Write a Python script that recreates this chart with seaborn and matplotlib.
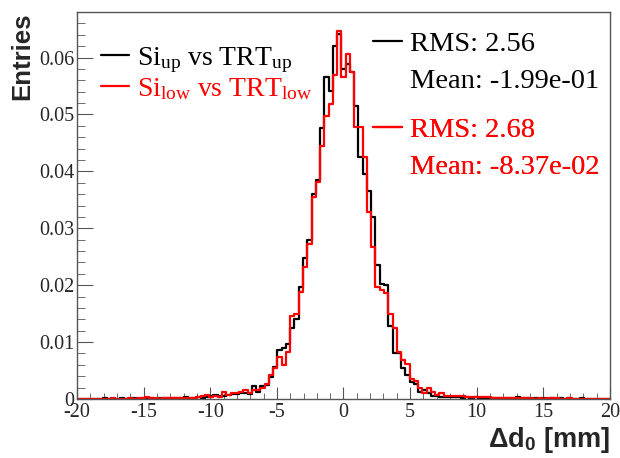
import numpy as np
import pandas as pd
import matplotlib
matplotlib.use("Agg")
import matplotlib.pyplot as plt
import seaborn as sns
from matplotlib.lines import Line2D
from matplotlib.ticker import MultipleLocator, FuncFormatter

# Histogram binning: 125 bins from -20 to 20 mm
bin_edges = np.linspace(-20, 20, 126)
bin_centers = (bin_edges[:-1] + bin_edges[1:]) / 2

# Normalised entries per bin
entries_up = [
    0, 0, 0, 0, 0, 0, 0.0001, 0, 0, 0,
    0.0001, 0, 0, 0.0001, 0, 0.0001, 0, 0.0001, 0, 0.0001,
    0.0002, 0.0001, 0.0002, 0.0001, 0.0002, 0.0003, 0.0001, 0.0002, 0.0003, 0.0002,
    0.0004, 0.0006, 0.0007, 0.0005, 0.0005, 0.0007, 0.0008, 0.0008, 0.0010, 0.0010,
    0.0008, 0.0022, 0.0013, 0.0022, 0.0024, 0.0039, 0.0057, 0.0086, 0.0089, 0.0097,
    0.0125, 0.0140, 0.0197, 0.0247, 0.0280, 0.0361, 0.0384, 0.0477, 0.0566, 0.0542,
    0.0621, 0.0642, 0.0580, 0.0589, 0.0574, 0.0514, 0.0425, 0.0396, 0.0366, 0.0320,
    0.0235, 0.0202, 0.0200, 0.0128, 0.0080, 0.0080, 0.0055, 0.0042, 0.0030, 0.0026,
    0.0013, 0.0016, 0.0010, 0.0005, 0.0005, 0.0003, 0.0003, 0.0003, 0.0003, 0.0004,
    0.0002, 0.0003, 0.0002, 0.0003, 0.0001, 0.0002, 0.0002, 0.0001, 0.0001, 0.0002,
    0.0001, 0.0001, 0.0002, 0.0004, 0.0001, 0.0001, 0, 0.0001, 0, 0.0001,
    0, 0.0001, 0, 0.0001, 0, 0.0002, 0, 0, 0.0001, 0,
    0, 0, 0, 0, 0,
]
entries_low = [
    0, 0, 0, 0, 0, 0, 0, 0, 0.0001, 0,
    0, 0, 0.0001, 0, 0.0001, 0.0001, 0.0004, 0.0001, 0.0001, 0,
    0.0001, 0.0001, 0.0001, 0.0002, 0.0001, 0.0002, 0.0001, 0.0002, 0.0004, 0.0005,
    0.0007, 0.0004, 0.0005, 0.0003, 0.0012, 0.0007, 0.0010, 0.0010, 0.0013, 0.0016,
    0.0010, 0.0016, 0.0016, 0.0019, 0.0027, 0.0042, 0.0054, 0.0074, 0.0060, 0.0083,
    0.0145, 0.0150, 0.0188, 0.0232, 0.0273, 0.0355, 0.0381, 0.0444, 0.0497, 0.0518,
    0.0570, 0.0647, 0.0566, 0.0607, 0.0574, 0.0478, 0.0478, 0.0425, 0.0328, 0.0267,
    0.0197, 0.0191, 0.0186, 0.0150, 0.0124, 0.0083, 0.0068, 0.0062, 0.0035, 0.0032,
    0.0019, 0.0010, 0.0019, 0.0013, 0.0007, 0.0010, 0.0006, 0.0006, 0.0006, 0.0005,
    0.0005, 0.0004, 0.0004, 0.0004, 0.0004, 0.0003, 0.0003, 0.0002, 0.0001, 0.0002,
    0.0002, 0.0001, 0.0001, 0.0002, 0.0001, 0.0001, 0.0001, 0, 0.0001, 0,
    0.0002, 0.0002, 0.0001, 0, 0, 0.0001, 0, 0, 0, 0,
    0, 0, 0, 0, 0,
]

series_labels = [r"Si$_{\mathrm{up}}$ vs TRT$_{\mathrm{up}}$",
                 r"Si$_{\mathrm{low}}$ vs TRT$_{\mathrm{low}}$"]
rms_vals = [2.56, 2.68]
mean_vals = [-1.99e-01, -8.37e-02]
colors = ["black", "red"]

sns.set_style("ticks")
plt.rcParams["font.family"] = ["Liberation Serif", "DejaVu Serif"]
plt.rcParams["mathtext.fontset"] = "custom"
plt.rcParams["mathtext.rm"] = "Liberation Serif"
plt.rcParams["mathtext.it"] = "Liberation Serif:italic"
plt.rcParams["mathtext.bf"] = "Liberation Sans:bold"
plt.rcParams["axes.unicode_minus"] = False

fig = plt.figure(figsize=(6.2, 4.58), dpi=100)
ax = fig.add_axes([77 / 620, 1 - 399 / 458, 533 / 620, 387 / 458])

for vals, c in zip([entries_up, entries_low], colors):
    df = pd.DataFrame({"d0": bin_centers, "w": vals})
    sns.histplot(data=df, x="d0", weights="w", bins=list(bin_edges), element="step",
                 fill=False, color=c, linewidth=1.6, ax=ax)

ax.set_xlim(-20, 20)
ax.set_ylim(0, 0.068)

# ROOT-like axes
ax.xaxis.set_major_locator(MultipleLocator(5))
ax.xaxis.set_minor_locator(MultipleLocator(1))
ax.yaxis.set_major_locator(MultipleLocator(0.01))
ax.yaxis.set_minor_locator(MultipleLocator(0.002))
ax.yaxis.set_major_formatter(FuncFormatter(lambda v, p: "0" if abs(v) < 1e-9 else f"{v:.2f}"))
ax.tick_params(axis="both", which="both", direction="in", labelsize=14.5, color="#555555",
               top=False, right=False)
ax.tick_params(axis="y", which="major", length=11.5, pad=2)
ax.tick_params(axis="y", which="minor", length=5.8)
ax.tick_params(axis="x", which="major", length=8.4, pad=3)
ax.tick_params(axis="x", which="minor", length=4.2)
for sp in ax.spines.values():
    sp.set_visible(True)
    sp.set_color("#555555")
    sp.set_linewidth(1.0)

ax.set_ylabel("Entries", fontfamily="Liberation Sans", fontweight="bold", fontsize=18.5, loc="top")
ax.yaxis.set_label_coords(-0.081, 1.0)
ax.set_xlabel("Δd" + r"$_{\mathbf{0}}$" + " [mm]", fontfamily="Liberation Sans",
              fontweight="bold", fontsize=19.5, loc="right")
ax.xaxis.set_label_coords(1.0, -0.066)

# Series legend (top left)
handles = [Line2D([], [], color=c, lw=1.6) for c in colors]
leg1 = ax.legend(handles, series_labels, loc="upper left",
                 bbox_to_anchor=(101 / 620, 1 - 45 / 458), bbox_transform=fig.transFigure,
                 frameon=False, fontsize=20, handlelength=1.0, handletextpad=0.28,
                 borderpad=0, borderaxespad=0, labelspacing=0.05)
for t, c in zip(leg1.get_texts(), colors):
    t.set_color(c)
ax.add_artist(leg1)

# Stats boxes (top right)
for rms, mean, c, top in zip(rms_vals, mean_vals, colors, [31, 117]):
    h = [Line2D([], [], color=c, lw=1.6), Line2D([], [], color="none")]
    leg = ax.legend(h, [f"RMS: {rms:.2f}", f"Mean: {mean:.2e}"], loc="upper left",
                    bbox_to_anchor=(373 / 620, 1 - top / 458), bbox_transform=fig.transFigure,
                    frameon=False, fontsize=20.5, handlelength=1.02, handletextpad=0.27,
                    borderpad=0, borderaxespad=0, labelspacing=0.4, labelcolor=c)
    ax.add_artist(leg)

fig.savefig("out.png", dpi=100)
